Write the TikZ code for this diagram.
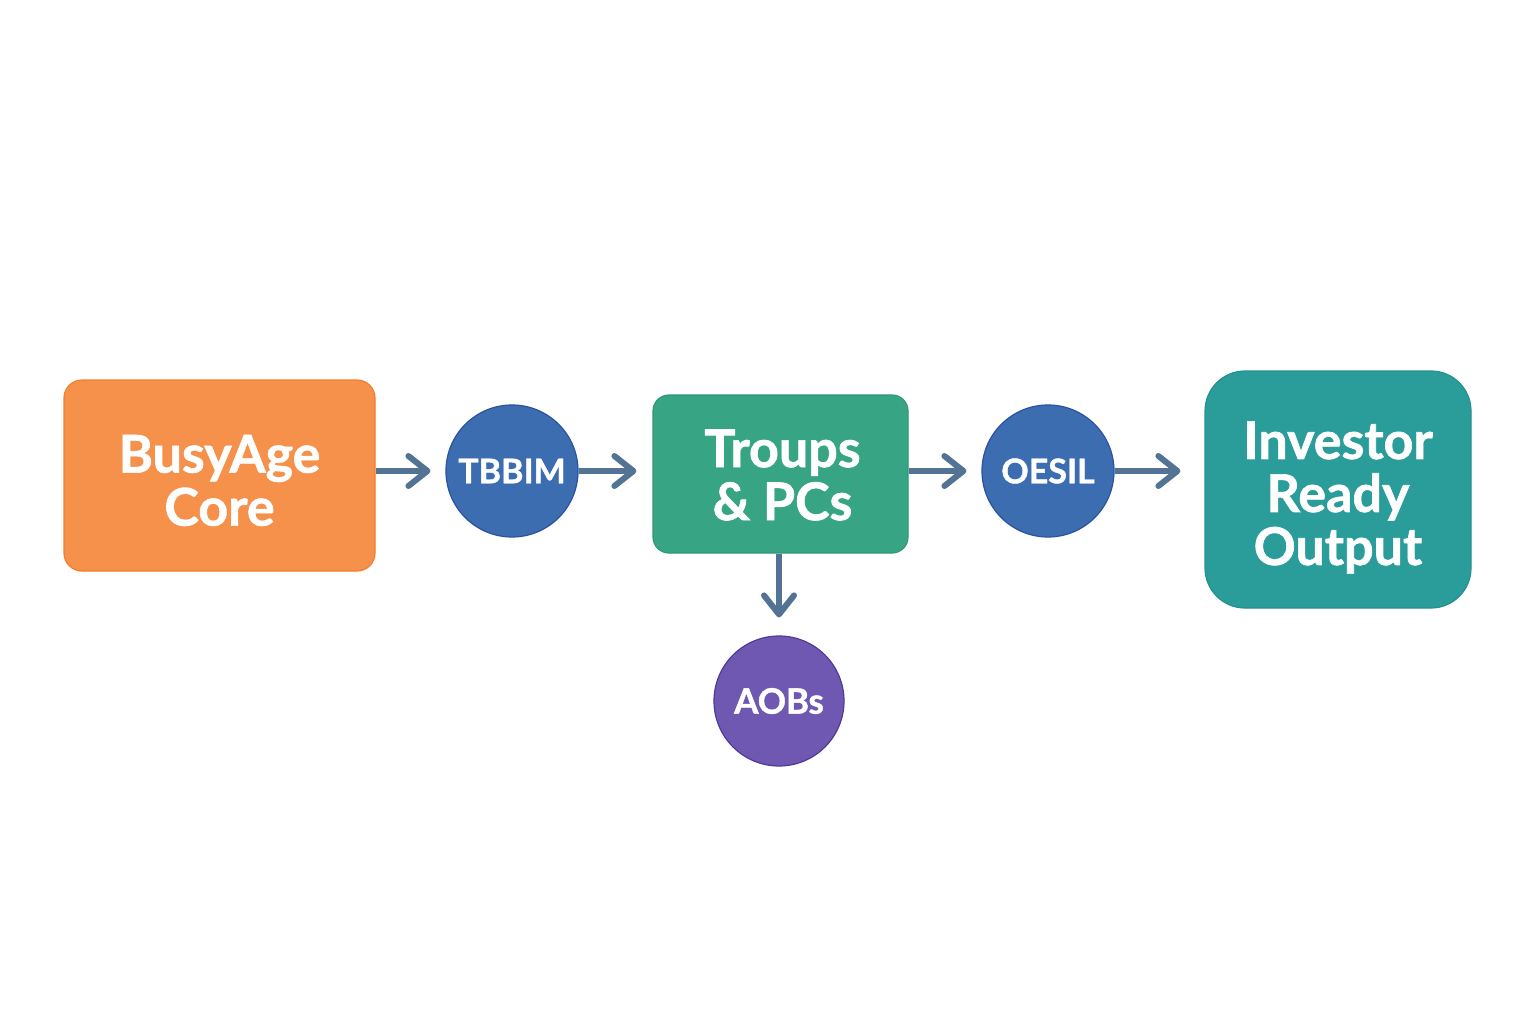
\documentclass[tikz,border=0pt]{standalone}
\usepackage{fontspec}
\setmainfont{Lato}[BoldFeatures={FakeBold=1.2}]
\usetikzlibrary{arrows.meta}
\definecolor{cOrange}{HTML}{F5914A}
\definecolor{cOrangeB}{HTML}{F37E2C}
\definecolor{cBlue}{HTML}{3D6DB1}
\definecolor{cBlueB}{HTML}{2B52A0}
\definecolor{cGreen}{HTML}{37A583}
\definecolor{cGreenB}{HTML}{2E9877}
\definecolor{cTeal}{HTML}{2A9C9A}
\definecolor{cTealB}{HTML}{23918F}
\definecolor{cPurple}{HTML}{6F58B2}
\definecolor{cPurpleB}{HTML}{4F3A9A}
\definecolor{cArrow}{HTML}{527394}
\tikzset{
  boxnode/.style={rectangle, draw, line width=1.2pt, inner sep=0pt},
  boxtext/.style={text=white, align=center, inner sep=0pt, font=\fontsize{52}{53}\selectfont\bfseries},
  circnode/.style={circle, draw, line width=1.2pt, inner sep=0pt, minimum size=132pt, text=white, align=center, font=\fontsize{34}{40}\selectfont\bfseries},
  arr/.style={draw=cArrow, line width=6pt, -{Straight Barb[length=19pt, width=30pt, round]}},
}
\begin{document}
\begin{tikzpicture}[x=1pt, y=-1pt]
\useasboundingbox[fill=white] (0,0) rectangle (1536,1024);
\node[boxnode, fill=cOrange, draw=cOrangeB, rounded corners=18pt, minimum width=311pt, minimum height=191pt,
  label={[boxtext, yshift=-5pt]center:{BusyAge\\Core}}] (core) at (219.5,475.5) {};
\node[circnode, fill=cBlue, draw=cBlueB] (tbbim) at (512,471) {TBBIM};
\node[boxnode, fill=cGreen, draw=cGreenB, rounded corners=16pt, minimum width=255pt, minimum height=158pt,
  label={[boxtext, yshift=-1pt, xshift=2pt]center:{Troups\\\& PCs}}] (troups) at (780.5,474) {};
\node[circnode, fill=cBlue, draw=cBlueB] (oesil) at (1048,471) {OESIL};
\node[boxnode, fill=cTeal, draw=cTealB, rounded corners=40pt, minimum width=266pt, minimum height=237pt,
  label={[boxtext, yshift=-8pt]center:{Investor\\Ready\\Output}}] (inv) at (1338,489.5) {};
\node[circnode, fill=cPurple, draw=cPurpleB, minimum size=130pt, font=\fontsize{35}{40}\selectfont\bfseries] (aobs) at (779,701) {AOBs};
\draw[arr] (core.east |- tbbim) -- ([xshift=-15pt]tbbim.west);
\draw[arr] (tbbim.east) -- ([xshift=-16pt]troups.west |- tbbim);
\draw[arr] (troups.east |- oesil) -- ([xshift=-15pt]oesil.west);
\draw[arr] (oesil.east) -- ([xshift=-24pt]inv.west |- oesil);
\draw[arr] (troups.south -| aobs) -- ([yshift=18pt]aobs.north);
\end{tikzpicture}
\end{document}
